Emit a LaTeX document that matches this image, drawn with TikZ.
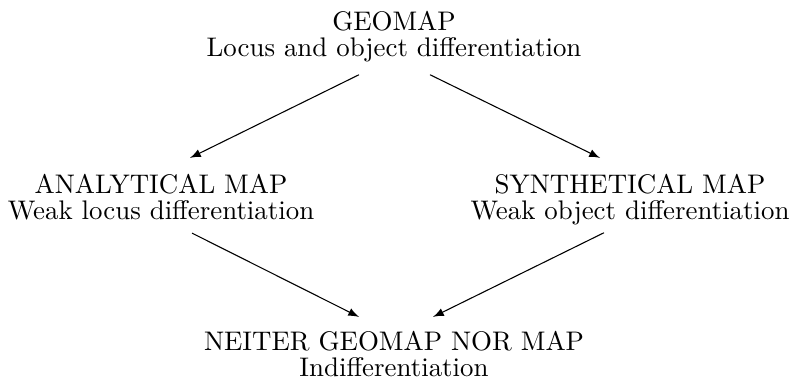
\documentclass[tikz,border=0pt]{standalone}
\usetikzlibrary{positioning, arrows.meta}

\begin{document}
\begin{tikzpicture}[
    x=0.372pt, y=-0.372pt,
    mapnode/.style={align=center, inner sep=0pt, anchor=base,
      font=\fontsize{10}{10}\selectfont},
    maparrow/.style={-latex, line width=0.4pt}
  ]
  \useasboundingbox (0,0) rectangle (789,385);

  % base anchor sits on the second line
  \node[mapnode] (geo) at (394,57) {GEOMAP\\Locus and object differentiation};
  \node[mapnode] (ana) at (161,220) {ANALYTICAL MAP\\Weak locus differentiation};
  \node[mapnode] (syn) at (630,220) {SYNTHETICAL MAP\\Weak object differentiation};
  \node[mapnode] (nei) at (394,377) {NEITER GEOMAP NOR MAP\\Indifferentiation};

  \draw[maparrow] ([shift={(-35,11.7)}]geo.south) -- ([shift={(29,-15.4)}]ana.north);
  \draw[maparrow] ([shift={(36,11.7)}]geo.south) -- ([shift={(-30,-15.4)}]syn.north);
  \draw[maparrow] ([shift={(31,12)}]ana.south) -- ([shift={(-35,-13.4)}]nei.north);
  \draw[maparrow] ([shift={(-26,6.7)}]syn.south) -- ([shift={(39,-13.4)}]nei.north);
\end{tikzpicture}
\end{document}
